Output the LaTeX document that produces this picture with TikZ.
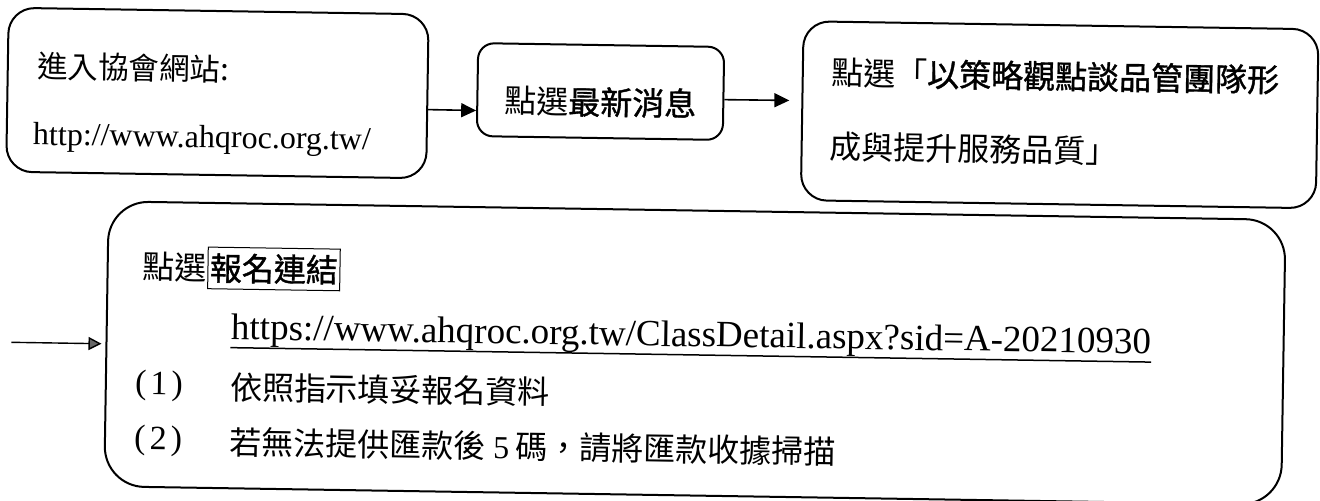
\documentclass[tikz,border=0pt]{standalone}
\usepackage{fontspec}
\setmainfont{Liberation Serif}
\newfontfamily\cjk{Noto Sans CJK TC}
\newfontfamily\cjkb[FakeBold=1.2]{Noto Sans CJK TC}
\newfontfamily\lat{Liberation Serif}
\usetikzlibrary{arrows.meta,calc}
\tikzset{
  flowbox/.style={draw=black, line width=1pt, rectangle, inner sep=0pt},
  txt/.style={inner sep=0pt, anchor=west},
  cjkA/.style={font=\cjk\fontsize{15.25pt}{18pt}\selectfont},
  cjkB/.style={font=\cjk\fontsize{16pt}{19pt}\selectfont},
  urlA/.style={font=\lat\fontsize{16pt}{19pt}\selectfont},
  urlB/.style={font=\lat\fontsize{18.5pt}{22pt}\selectfont},
  numf/.style={font=\lat\fontsize{17pt}{20pt}\selectfont},
  arr/.style={line width=0.8pt, -{Triangle[length=7.5pt,width=7pt]}},
  arrsmall/.style={line width=0.7pt, -{Triangle[length=6.5pt,width=6.5pt,fill=black!60]}},
  framed/.style={draw=black, line width=0.5pt, inner xsep=1pt, inner ysep=3pt, anchor=west},
}
\begin{document}
\begin{tikzpicture}[x=0.5pt,y=-0.5pt]
\useasboundingbox (0,0) rectangle (1320,501);
\begin{scope}[rotate around={-0.9:(660,250)}, transform shape]
  % boxes
  \node[flowbox, rounded corners=13pt, minimum width=210pt, minimum height=82pt] (b1) at (215,100) {};
  \node[flowbox, rounded corners=8pt, minimum width=123pt, minimum height=46.5pt] (b2) at (598,92.5) {};
  \node[flowbox, rounded corners=13pt, minimum width=257.5pt, minimum height=89.5pt] (b3) at (1057.5,108.5) {};
  \node[flowbox, rounded corners=20pt, minimum width=588.5pt, minimum height=142.5pt] (b4) at (696.5,352.5) {};

  % box 1 text
  \node[txt, cjkA] (t1a) at (34,76) {進入協會網站:};
  \node[txt, urlA] (t1b) at (31,147) {http://www.ahqroc.org.tw/};

  % box 2 text
  \node[inner sep=0pt, cjkB] (t2) at (598,103) {點選{\cjkb 最新消息}};

  % box 3 text
  \node[txt, cjkB] (t3a) at (828,70) {點選「{\cjkb 以策略觀點談品管團隊形}};
  \node[txt, cjkB] (t3b) at (828,144) {成與提升服務品質」};

  % box 4 text
  \node[txt, cjkB] (t4a) at (143,275) {點選};
  \node[framed, cjkB] (t4b) at (t4a.east) {\cjkb 報名連結};
  \node[inner sep=0pt, anchor=base west, urlB] (t4u) at (232,346) {https://www.ahqroc.org.tw/ClassDetail.aspx?sid=A-20210930};
  \draw[line width=0.75pt] (t4u.south west) -- (t4u.south east);
  \node[txt, numf] (n1) at (137,394) {(\kern2pt1\kern2pt)};
  \node[txt, cjkB] (l1) at (232,394) {依照指示填妥報名資料};
  \node[txt, numf] (n2) at (137,449) {(\kern2pt2\kern2pt)};
  \node[txt, cjkB] (l2) at (232,449) {若無法提供匯款後\hspace{4pt}{\lat 5}\hspace{3pt}碼，請將匯款收據掃描};

  % connectors
  \draw[arr] ($(b1.north east)!0.58!(b1.south east)$) -- ($(b2.north west)!0.72!(b2.south west)$);
  \draw[arr, shorten >=6pt] ($(b2.north east)!0.565!(b2.south east)$) -- ($(b3.north west)!0.444!(b3.south west)$);
  \coordinate (s3) at (13,352.5);
  \draw[arrsmall, shorten >=2pt] (s3) -- (b4.west);
\end{scope}
\end{tikzpicture}
\end{document}
